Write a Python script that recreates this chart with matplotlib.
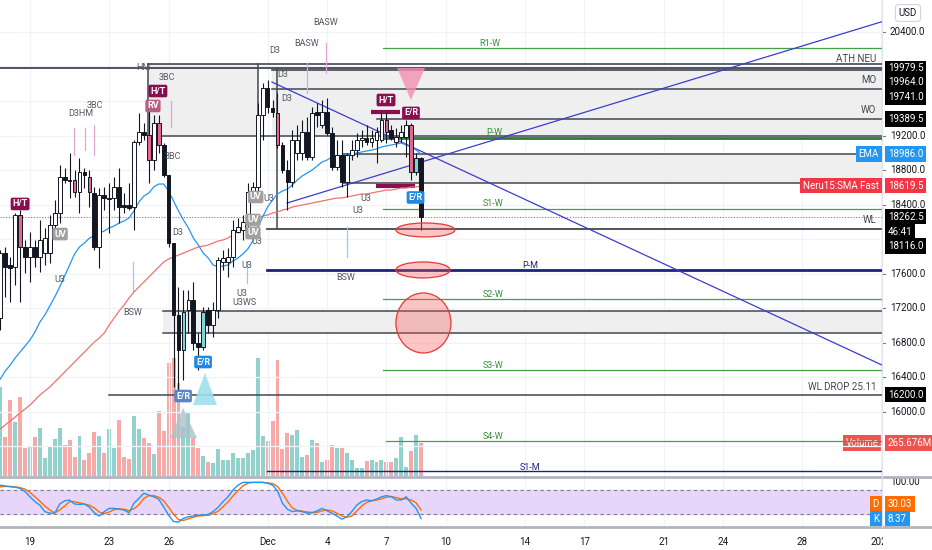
import numpy as np
import matplotlib
matplotlib.use("Agg")
import matplotlib.pyplot as plt
import matplotlib.transforms as mtransforms
from matplotlib.patches import Rectangle, Ellipse, Polygon
from matplotlib.lines import Line2D

plt.rcParams['font.family'] = ['Roboto', 'DejaVu Sans']

# ---- data (x in days from 19 Nov 2020 00:00, 6h bars) ----
bar_days = -1.5 + 0.25 * np.arange(86)

opens = [17088, 17840, 17701, 17678, 18280, 17910, 17794, 17910, 17794, 17840,
         17840, 18164, 18303, 18720, 18686, 18686, 18547, 18778, 18720, 18535,
         17910, 18512, 18466, 18477, 18605, 18396, 18396, 18373, 19126, 19241,
         19207, 18917, 19346, 19091, 18743, 17956, 17122, 16717, 17180, 17296,
         16798, 16752, 17180, 17006, 17180, 17736, 17736, 17794, 18083, 18107,
         18188, 18535, 18605, 19438, 19751, 19519, 19461, 19091, 18801, 18662,
         18998, 18998, 19241, 18952, 19473, 19322, 19473, 19230, 18836, 18975,
         18662, 18975, 19033, 19149, 19172, 19126, 19149, 19149, 19380, 19265,
         19126, 19184, 19184, 19322, 18778, 18940]
highs = [17875, 17910, 17794, 18303, 18338, 17991, 18083, 17991, 18222, 18130,
         18280, 18454, 18859, 18825, 18998, 18801, 18940, 18825, 18801, 18605,
         18593, 18605, 18651, 18720, 18825, 18535, 18651, 19149, 19461, 19346,
         19531, 19438, 19438, 19114, 18743, 17956, 17447, 17412, 17412, 17504,
         16914, 17215, 17215, 17273, 17794, 17875, 17898, 18222, 18246, 18280,
         18651, 18662, 19577, 19809, 19844, 19612, 19693, 19126, 18917, 19265,
         19322, 19380, 19415, 19531, 19577, 19612, 19635, 19299, 19149, 19149,
         18998, 19149, 19230, 19265, 19322, 19265, 19299, 19461, 19461, 19322,
         19288, 19322, 19380, 19346, 18998, 18952]
lows = [16949, 17331, 17273, 17470, 17273, 17609, 17504, 17678, 17620, 17701,
        17724, 18130, 18188, 18651, 18477, 18489, 18303, 18593, 18373, 17875,
        17667, 18338, 18072, 18338, 18188, 18303, 18338, 18107, 19091, 19149,
        18651, 18801, 18998, 18720, 17910, 16289, 16219, 16370, 16914, 16717,
        16485, 16717, 16914, 16868, 17088, 17643, 17562, 17678, 18072, 17991,
        18130, 18489, 18535, 19149, 19461, 19415, 19056, 18767, 18338, 18605,
        18917, 18917, 18917, 18917, 19299, 19288, 19207, 18801, 18801, 18605,
        18489, 18917, 18952, 19068, 19091, 19068, 18882, 19126, 19114, 19149,
        19068, 19126, 18952, 18686, 18743, 18107]
closes = [17840, 17678, 17667, 18280, 17910, 17794, 17910, 17794, 17991, 18014,
          18164, 18303, 18720, 18686, 18674, 18547, 18778, 18743, 18547, 17910,
          18512, 18477, 18477, 18605, 18373, 18373, 18361, 19126, 19241, 19207,
          18917, 19346, 19091, 18743, 17956, 17122, 16717, 17157, 17296, 16798,
          16752, 17157, 17006, 17180, 17759, 17782, 17794, 18107, 18141, 18199,
          18547, 18605, 19438, 19751, 19531, 19473, 19091, 18801, 18662, 19149,
          19149, 19241, 18952, 19461, 19438, 19473, 19230, 18836, 18975, 18662,
          18975, 19033, 19149, 19172, 19126, 19172, 19241, 19380, 19241, 19172,
          19184, 19241, 19322, 18778, 18940, 18262.5]
# signal colouring of each bar: w plain up, b plain down, p bearish signal, t bullish signal
bar_signal = list("wbbwpbwbww" "wwwbbpwbpb" "wbwwbbbwwb" "pwpbbbbtwb" "btbwwwwwww"
                  "wwwwbbpbbw" "wwbwbwbbwb" "wwwwbwwwpb" "wwwptb")
volume_m = [712, 312, 608, 432, 632, 224, 232, 312, 384, 144,
            232, 296, 384, 248, 288, 152, 320, 128, 184, 352,
            320, 184, 376, 224, 448, 152, 136, 480, 376, 304,
            264, 176, 520, 360, 904, 944, 744, 392, 512, 304,
            224, 160, 112, 104, 216, 128, 128, 184, 144, 144,
            184, 208, 944, 320, 280, 440, 928, 216, 344, 328,
            368, 152, 168, 288, 264, 112, 128, 248, 224, 224,
            184, 128, 64, 64, 120, 128, 112, 128, 112, 112,
            144, 312, 72, 200, 328, 265.676]
ema = [16381, 16474, 16543, 16624, 16694, 16763, 16833, 16925, 17041, 17122,
       17227, 17331, 17447, 17574, 17701, 17829, 17910, 17956, 18014, 18037,
       18072, 18095, 18130, 18153, 18188, 18211, 18246, 18327, 18431, 18500,
       18535, 18605, 18639, 18639, 18558, 18442, 18327, 18222, 18130, 18014,
       17933, 17840, 17782, 17701, 17678, 17690, 17701, 17748, 17782, 17829,
       17887, 17979, 18130, 18257, 18373, 18454, 18524, 18558, 18581, 18628,
       18686, 18732, 18767, 18801, 18848, 18894, 18917, 18952, 18964, 18964,
       18975, 18987, 18999, 19010, 19022, 19033, 19045, 19068, 19080, 19091,
       19103, 19114, 19091, 19068, 19033, 18986]
sma_fast = [15802, 15849, 15895, 15941, 15988, 16034, 16080, 16138, 16196, 16242,
            16289, 16346, 16404, 16462, 16520, 16578, 16636, 16694, 16752, 16810,
            16856, 16914, 17006, 17088, 17169, 17238, 17319, 17389, 17447, 17504,
            17562, 17620, 17678, 17736, 17771, 17794, 17817, 17840, 17863, 17887,
            17910, 17921, 17933, 17956, 17979, 17991, 18014, 18049, 18095, 18130,
            18176, 18222, 18246, 18269, 18280, 18303, 18315, 18338, 18350, 18373,
            18385, 18396, 18408, 18419, 18431, 18442, 18454, 18466, 18477, 18477,
            18489, 18500, 18512, 18524, 18524, 18535, 18547, 18558, 18570, 18570,
            18581, 18593, 18593, 18605, 18605, 18619.5]
stoch_k = [92, 90, 88, 87, 84, 76, 63, 51, 42, 26,
           22, 22, 45, 53, 55, 45, 44, 45, 37, 23,
           15, 26, 34, 34, 32, 30, 23, 47, 59, 72,
           67, 63, 57, 38, 17, 1, 0, 9, 13, 15,
           17, 17, 19, 26, 37, 51, 63, 80, 92, 99,
           99, 99, 99, 99, 97, 92, 78, 47, 32, 26,
           28, 26, 22, 23, 28, 34, 28, 22, 15, 7,
           13, 26, 42, 51, 55, 53, 57, 63, 66, 63,
           55, 55, 63, 47, 34, 8.37]
stoch_d = [88, 89, 89, 88, 86, 82, 74, 63, 52, 40,
           30, 23, 30, 40, 51, 51, 48, 45, 42, 35,
           25, 21, 25, 31, 33, 32, 28, 33, 43, 59,
           66, 66, 62, 53, 37, 19, 6, 4, 8, 12,
           15, 16, 17, 21, 27, 38, 50, 65, 78, 90,
           97, 99, 99, 99, 98, 96, 89, 72, 52, 35,
           29, 27, 25, 24, 24, 28, 30, 28, 22, 15,
           12, 15, 27, 40, 49, 53, 55, 58, 62, 64,
           61, 58, 58, 55, 48, 30.03]

tick_days = [0, 4, 7, 12, 15, 18, 21, 25, 28, 32, 35, 39, 43]
tick_labels = ["19", "23", "26", "Dec", "4", "7", "10", "14", "17", "21", "24", "28", "2021"]
price_ticks = [20400, 19200, 18800, 18400, 17600, 17200, 16800, 16400, 16000]

# drawn levels: (price, start day, colour, width)
levels = [
    (20214, 17.83, '#43a047', 0.9),    # R1-W
    (20026, 5.96, '#434651', 1.2),
    (19979.5, -1.6, '#434651', 1.3),
    (19964, 12.22, '#434651', 1.2),
    (19741, 12.22, '#434651', 1.1),
    (19389.5, 17.53, '#434651', 1.1),
    (19199, 5.96, '#434651', 1.1),
    (19172, 17.83, '#2e7d32', 2.0),    # P-W
    (18983, 15.81, '#434651', 1.1),
    (18654, 15.81, '#434651', 1.1),
    (18350, 17.83, '#43a047', 0.9),    # S1-W
    (18116, 11.97, '#434651', 1.3),
    (17644, 11.97, '#1a237e', 2.0),    # P-M
    (17308, 17.83, '#43a047', 0.9),    # S2-W
    (17169, 6.72, '#434651', 1.1),
    (16914, 6.72, '#434651', 1.1),
    (16486, 17.83, '#43a047', 0.9),    # S3-W
    (16200, 3.99, '#434651', 1.1),     # WL DROP
    (15663, 17.98, '#43a047', 0.9),    # S4-W
    (15316, 11.97, '#1a237e', 1.0),    # S1-M
]
zones = [(5.96, 11.52, 19199, 20026), (12.22, 44, 19199, 19979.5),
         (15.81, 44, 18654, 18983), (6.72, 44, 16914, 17169)]
trend_lines = [((12.22, 19820), (43.03, 16543)), ((12.98, 18419), (43.03, 20519))]

X0, X1 = -1.515, 43.03
Y0, Y1 = 15258, 20770
W, H = 932, 550
GRID = '#f0f3fa'
TXT = '#131722'

fig = plt.figure(figsize=(W / 100, H / 100), dpi=100)


def px_axes(l, t, r, b):
    return fig.add_axes([l / W, 1 - b / H, (r - l) / W, (b - t) / H])


ax = px_axes(0, 0, 882, 476)
ax_v = ax.twinx()
ax.set_zorder(ax_v.get_zorder() + 1)
ax.patch.set_visible(False)
ax_s = px_axes(0, 478, 882, 527)

for a in (ax, ax_v, ax_s):
    for s in a.spines.values():
        s.set_visible(False)
    a.set_xlim(X0, X1)

ax.set_ylim(Y0, Y1)
ax_v.set_ylim(0, 3808)
ax_v.set_yticks([])
ax.set_xticks([])
ax.set_yticks([])

# grid
for d in tick_days:
    ax.axvline(d, color=GRID, lw=0.9, zorder=0)
    ax_s.axvline(d, color=GRID, lw=0.9, zorder=0)
for p in range(15600, 20801, 400):
    ax.axhline(p, color=GRID, lw=0.9, zorder=0)

# volume
o = np.array(opens); c = np.array(closes)
up = c >= o
ax_v.bar(bar_days, volume_m, width=0.2,
         color=np.where(up, '#92d2cc', '#f7a9a7'), zorder=1)

# zones and levels
for x_a, x_b, p_lo, p_hi in zones:
    ax.add_patch(Rectangle((x_a, p_lo), x_b - x_a, p_hi - p_lo,
                           facecolor='#ededed', edgecolor='none', alpha=0.85, zorder=1))
for p, start, col, lw in levels:
    ax.plot([start, 44], [p, p], color=col, lw=lw, zorder=2)
ax.plot([5.96, 5.96], [19199, 20026], color='#434651', lw=1.1, zorder=2)
ax.plot([11.52, 11.52], [19199, 20026], color='#434651', lw=1.1, zorder=2)
ax.plot([12.47, 12.47], [18116, 19979.5], color='#434651', lw=1.1, zorder=2)
ax.axhline(closes[-1], color='#787b86', lw=0.8, ls=(0, (1, 1.5)), zorder=2)

# trend lines
for (xa, ya), (xb, yb) in trend_lines:
    ax.plot([xa, xb], [ya, yb], color='#3c3ccf', lw=0.9, zorder=3)
ax.plot([17.47, 19.44], [18616, 18616], color='#880e4f', lw=3, zorder=3, solid_capstyle='butt')
ax.plot([17.22, 18.69], [19477, 19477], color='#880e4f', lw=3, zorder=3, solid_capstyle='butt')

# signal ticks
for d, p_a, p_b in [(14.95, 19925, 20272), (13.99, 19693, 20040), (3.23, 18975, 19323),
                    (2.22, 18975, 19288), (2.77, 19033, 19288), (7.12, 19300, 19600),
                    (16.01, 17794, 18141), (5.20, 17389, 17736), (10.96, 17493, 17736)]:
    ax.plot([d, d], [p_a, p_b], color='#e1a6d8' if p_a > 18500 else '#90caf9',
            lw=0.9, zorder=2)

# moving averages
ax.plot(bar_days, sma_fast, color='#f0736f', lw=0.9, zorder=4)
ax.plot(bar_days, ema, color='#2196f3', lw=0.9, zorder=4)

# candles
face = {'w': 'white', 'b': '#131722', 'p': '#e0698d', 't': '#80d4dc'}
ax.vlines(bar_days, lows, highs, color='#131722', lw=0.8, zorder=5)
body_lo = np.minimum(o, c)
body_h = np.maximum(np.abs(c - o), 14)
ax.bar(bar_days, body_h, bottom=body_lo, width=0.19,
       color=[face[k] for k in bar_signal], edgecolor='#131722', lw=0.7, zorder=6)

# shapes
ax.add_patch(Polygon([(18.54, 19983), (19.95, 19983), (19.24, 19612)], closed=True,
                     facecolor='#f48fb1', alpha=0.8, edgecolor='none', zorder=7))
ax.add_patch(Polygon([(8.23, 16080), (9.44, 16080), (8.84, 16451)], closed=True,
                     facecolor='#9fe0ec', alpha=0.9, edgecolor='none', zorder=7))
ax.add_patch(Polygon([(7.07, 15698), (8.43, 15698), (7.73, 16046)], closed=True,
                     facecolor='#a9c4c8', alpha=0.8, edgecolor='none', zorder=7))
for cx, cy, w, h in [(19.97, 18107, 2.98, 162), (19.85, 17644, 2.73, 185), (19.87, 17030, 2.78, 695)]:
    ax.add_patch(Ellipse((cx, cy), w, h, facecolor=(0.96, 0.35, 0.35, 0.35),
                         edgecolor='#e53935', lw=0.9, zorder=7))

# marker texts
marks = [("BASW", 14.95, 20504), ("BASW", 13.99, 20272), ("D3", 12.37, 20191),
         ("D3", 12.78, 19902), ("D3", 12.98, 19635), ("HM", 5.71, 19983),
         ("3BC", 6.92, 19878), ("D3HM", 2.58, 19461), ("3BC", 3.28, 19554),
         ("3BC", 7.22, 18952), ("D3", 7.47, 18072), ("U3", 1.52, 17528),
         ("BSW", 5.20, 17146), ("U3", 11.46, 17968), ("U3", 12.08, 18466),
         ("U3", 10.96, 17701), ("U3", 10.71, 17377), ("U3WS", 10.81, 17262),
         ("U3", 16.97, 18477), ("U3", 16.57, 18327), ("BSW", 15.96, 17562)]
for t, d, p in marks:
    ax.text(d, p, t, fontsize=6.5, color='#555862', ha='center', va='center', zorder=8)

tags = [("H/T", -0.5, 18408, '#880e4f'), ("H/T", 6.46, 19716, '#880e4f'),
        ("RV", 6.21, 19543, '#b75d80'), ("H/T", 17.98, 19612, '#880e4f'),
        ("E/R", 19.24, 19462, '#880e4f'), ("E/R", 19.47, 18483, '#1e88e5'),
        ("E/R", 8.74, 16578, '#1e88e5'), ("E/R", 7.73, 16184, '#5a86c8'),
        ("UV", 1.52, 18060, '#a0a0a0'), ("UV", 11.40, 18489, '#a0a0a0'),
        ("UV", 11.26, 18223, '#a0a0a0'), ("UV", 11.26, 18072, '#a0a0a0')]
for t, d, p, col in tags:
    ax.text(d, p, t, fontsize=6.5, color='white', ha='center', va='center', zorder=9,
            fontweight='bold',
            bbox=dict(boxstyle='round,pad=0.2,rounding_size=0.2', fc=col, ec='none'))

lvl_txt = [("R1-W", 23.23, 20261, '#388e3c'), ("P-W", 23.43, 19230, '#388e3c'),
           ("S1-W", 23.38, 18408, '#388e3c'), ("S2-W", 23.38, 17354, '#388e3c'),
           ("S3-W", 23.38, 16532, '#388e3c'), ("S4-W", 23.38, 15721, '#388e3c'),
           ("P-M", 25.25, 17701, '#1a237e'), ("S1-M", 25.25, 15362, '#1a237e')]
for t, d, p, col in lvl_txt:
    ax.text(d, p, t, fontsize=6.5, color=col, ha='center', va='center', zorder=8)

for t, p in [("ATH NEU", 20087), ("MO", 19844), ("WO", 19496), ("WL", 18223),
             ("WL DROP 25.11", 16289)]:
    ax.text(42.73, p, t, fontsize=7, color='#434651', ha='right', va='center', zorder=8)

# right price scale
trans_r = mtransforms.blended_transform_factory(ax.transAxes, ax.transData)
for p in price_ticks:
    ax.text(890 / 882, p, f"{p:.1f}", transform=trans_r, fontsize=7, color=TXT,
            ha='left', va='center', clip_on=False)
    ax.plot([1.0, 885 / 882], [p, p], transform=trans_r, color='#787b86', lw=0.8, clip_on=False)


def tag(axis, value, text, fc, dy=0, side='right', tc='white'):
    tr = mtransforms.blended_transform_factory(axis.transAxes, axis.transData)
    tr = mtransforms.offset_copy(tr, fig=fig, x=0, y=-dy, units='dots')
    if side == 'right':
        axis.text(888 / 882, value, text, transform=tr, fontsize=7, color=tc, ha='left',
                  va='center', clip_on=False, zorder=20,
                  bbox=dict(boxstyle='square,pad=0.28', fc=fc, ec='none'))
    else:
        axis.text(879 / 882, value, text, transform=tr, fontsize=7, color=tc, ha='right',
                  va='center', clip_on=False, zorder=20,
                  bbox=dict(boxstyle='square,pad=0.28', fc=fc, ec='none'))


tag(ax, 19979.5, "19979.5", '#000000')
tag(ax, 19964.0, "19964.0", '#000000', dy=12)
tag(ax, 19741.0, "19741.0", '#000000', dy=8)
tag(ax, 19389.5, "19389.5", '#000000')
tag(ax, ema[-1], f"{ema[-1]:.1f}", '#2196f3')
tag(ax, ema[-1], "EMA", '#2196f3', side='left')
tag(ax, sma_fast[-1], f"{sma_fast[-1]:.1f}", '#f23645')
tag(ax, sma_fast[-1], "Neru15:SMA Fast", '#f23645', side='left')
tag(ax, closes[-1], f"{closes[-1]:.1f}", '#000000')
tag(ax, closes[-1], "46:41", '#000000', dy=15)
tag(ax, 18116.0, "18116.0", '#000000', dy=17)
tag(ax, 16200.0, "16200.0", '#000000')
tag(ax_v, volume_m[-1], f"{volume_m[-1]:.3f}M", '#ef5350')
tag(ax_v, volume_m[-1], "Volume", '#ef5350', side='left')

# stochastic pane
ax_s.set_ylim(-12.5, 110)
ax_s.axhspan(20, 80, color='#e8d6fa', zorder=0)
ax_s.axhline(80, color='#787b86', lw=0.8, ls=(0, (3, 3)))
ax_s.axhline(20, color='#787b86', lw=0.8, ls=(0, (3, 3)))
ax_s.plot(bar_days, stoch_d, color='#ff6d00', lw=1.0)
ax_s.plot(bar_days, stoch_k, color='#2196f3', lw=1.0)
ax_s.set_yticks([])
ax_s.set_xticks(tick_days)
ax_s.set_xticklabels(tick_labels)
ax_s.tick_params(axis='x', length=0, pad=7, labelsize=7, labelcolor=TXT)
trs = mtransforms.blended_transform_factory(ax_s.transAxes, ax_s.transData)
ax_s.text(890 / 882, 100, "100.00", transform=trs, fontsize=7, color=TXT, ha='left',
          va='center', clip_on=False)
tag(ax_s, stoch_d[-1], f"{stoch_d[-1]:.2f}", '#ff6d00', dy=-6)
tag(ax_s, stoch_d[-1], "D", '#ff6d00', dy=-6, side='left')
tag(ax_s, stoch_k[-1], f"{stoch_k[-1]:.2f}", '#2196f3')
tag(ax_s, stoch_k[-1], "K", '#2196f3', side='left')

# frame lines
for yp in (477, 527):
    fig.add_artist(Line2D([0, 1], [1 - yp / H] * 2, color='#b2b5be', lw=2.0, zorder=4))
fig.add_artist(Line2D([882 / W] * 2, [1 - 527 / H, 1], color='#e0e3eb', lw=0.8, zorder=4))
fig.add_artist(Rectangle((883 / W, 0), 49 / W, 1 - 529 / H, transform=fig.transFigure,
                         facecolor='white', edgecolor='none', zorder=5))
fig.text(908 / W, 1 - 13 / H, "USD", fontsize=7, color=TXT, ha='center', va='center',
         bbox=dict(boxstyle='round,pad=0.35', fc='white', ec='#d1d4dc', lw=0.8))

fig.savefig("out.png", dpi=100)
